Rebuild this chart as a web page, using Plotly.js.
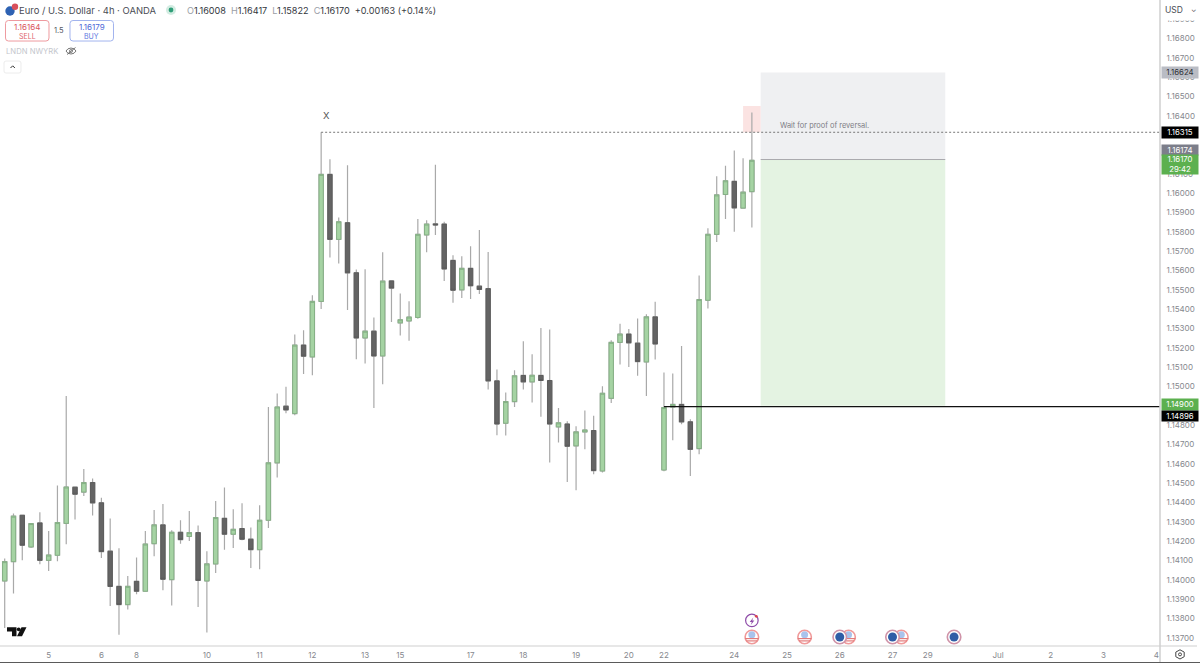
<!DOCTYPE html>
<html>
<head>
<meta charset="utf-8">
<script src="https://cdn.plot.ly/plotly-3.0.1.min.js"></script>
<style>html,body{margin:0;padding:0;background:#fff;overflow:hidden}#chart{width:1200px;height:663px}</style>
</head>
<body>
<div id="chart"></div>
<script>
const open = [1.13994,1.14094,1.14334,1.14170,1.14294,1.14101,1.14127,1.14292,1.14479,1.14454,
1.14503,1.14398,1.14148,1.13966,1.13872,1.13992,1.13941,1.14187,1.14284,1.14001,
1.14246,1.14224,1.14244,1.13994,1.14082,1.14318,1.14236,1.14265,1.14210,1.14156,
1.14308,1.14605,1.14898,1.14860,1.15214,1.15153,1.15440,1.16097,1.15761,1.15847,
1.15588,1.15251,1.15286,1.15158,1.15546,1.15329,1.15339,1.15357,1.15784,1.15841,
1.15840,1.15652,1.15500,1.15611,1.15519,1.15506,1.15029,1.14810,1.14922,1.15057,
1.15024,1.15057,1.15031,1.14791,1.14806,1.14693,1.14765,1.14772,1.14563,1.14939,
1.15228,1.15271,1.15224,1.15127,1.15360,1.14568,1.14894,1.14907,1.14817,1.14679,
1.15446,1.15787,1.15993,1.16061,1.15923,1.16008];
const high = [1.14110,1.14343,1.14334,1.14294,1.14349,1.14253,1.14488,1.14951,1.14480,1.14573,
1.14524,1.14425,1.14317,1.14163,1.14020,1.14115,1.14253,1.14361,1.14392,1.14256,
1.14308,1.14356,1.14281,1.14148,1.14408,1.14477,1.14365,1.14396,1.14270,1.14386,
1.14894,1.14964,1.14998,1.15269,1.15291,1.15472,1.16315,1.16175,1.15874,1.16145,
1.15605,1.15607,1.15357,1.15695,1.15550,1.15481,1.15441,1.15867,1.15860,1.16147,
1.15852,1.15679,1.15674,1.15726,1.15809,1.15696,1.15088,1.14969,1.15084,1.15234,
1.15167,1.15302,1.15295,1.14889,1.14820,1.14794,1.14876,1.14848,1.15001,1.15239,
1.15324,1.15298,1.15352,1.15374,1.15438,1.15072,1.15067,1.15210,1.14831,1.15574,
1.15818,1.16088,1.16142,1.16221,1.16180,1.16417];
const low = [1.13751,1.13929,1.14101,1.14165,1.14080,1.14046,1.14096,1.14184,1.14312,1.14434,
1.14332,1.14113,1.13865,1.13716,1.13846,1.13925,1.13938,1.14122,1.13946,1.13867,
1.14187,1.14201,1.13859,1.13728,1.14035,1.14156,1.14165,1.14205,1.14061,1.14054,
1.14268,1.14529,1.14862,1.14851,1.15064,1.15058,1.15401,1.15667,1.15636,1.15395,
1.15141,1.15119,1.14889,1.15012,1.15334,1.15264,1.15236,1.15350,1.15695,1.15784,
1.15546,1.15433,1.15458,1.15453,1.15478,1.14984,1.14748,1.14746,1.14894,1.14984,
1.14917,1.14843,1.14607,1.14710,1.14506,1.14463,1.14675,1.14546,1.14555,1.14915,
1.15114,1.15101,1.15055,1.14951,1.15140,1.14562,1.14722,1.14805,1.14537,1.14650,
1.15404,1.15747,1.15866,1.15800,1.15920,1.15822];
const close = [1.14094,1.14329,1.14179,1.14291,1.14101,1.14128,1.14296,1.14480,1.14443,1.14503,
1.14398,1.14146,1.13966,1.13872,1.13966,1.13941,1.14185,1.14284,1.14003,1.14246,
1.14208,1.14244,1.13997,1.14082,1.14322,1.14236,1.14261,1.14210,1.14156,1.14308,
1.14605,1.14894,1.14879,1.15214,1.15157,1.15440,1.16097,1.15761,1.15852,1.15588,
1.15251,1.15286,1.15158,1.15545,1.15509,1.15345,1.15359,1.15787,1.15840,1.15836,
1.15608,1.15498,1.15611,1.15521,1.15502,1.15029,1.14806,1.14922,1.15055,1.15024,
1.15058,1.15031,1.14806,1.14812,1.14691,1.14765,1.14775,1.14565,1.14965,1.15228,
1.15271,1.15226,1.15129,1.15360,1.15220,1.14891,1.14907,1.14817,1.14675,1.15450,
1.15787,1.15991,1.16064,1.15924,1.16005,1.16170];

const tickIdx = [5,11,15,23,29,35,41,45,53,59,65,71,75,83,89,95,101,105,113,119,125,131];
const tickDay = ['5','6','8','10','11','12','13','15','17','18','19','20','22','24','25','26','27','29','Jul','2','3','4'];
const priceTicks = [1.137,1.138,1.139,1.140,1.141,1.142,1.143,1.144,1.145,1.146,1.147,1.148,1.150,1.151,1.152,1.153,1.154,1.155,1.156,1.157,1.158,1.159,1.160,1.161,1.164,1.165,1.166,1.167,1.168,1.169];

const levelTarget = 1.16624, levelHigh = 1.16315, levelEntry = 1.16174, levelLast = 1.16170, levelStop = 1.14900, levelBase = 1.14896, zoneTop = 1.16451;
const eventsUS = [85,91,96,102];
const eventsEU = [95,101,108];
const eventLevel = 1.13704, alertLevel = 1.13790;

const idx = open.map((_, i) => i);
const W = 1160, H = 645.7;
const px = x => x / W, py = y => 1 - y / H;
const FONT = 'Inter, "Noto Sans", sans-serif';

function rrect(x0, y0, x1, y1, r) {
  const X = v => px(v).toFixed(5), Y = v => py(v).toFixed(5);
  return `M${X(x0 + r)},${Y(y0)}L${X(x1 - r)},${Y(y0)}Q${X(x1)},${Y(y0)} ${X(x1)},${Y(y0 + r)}L${X(x1)},${Y(y1 - r)}Q${X(x1)},${Y(y1)} ${X(x1 - r)},${Y(y1)}L${X(x0 + r)},${Y(y1)}Q${X(x0)},${Y(y1)} ${X(x0)},${Y(y1 - r)}L${X(x0)},${Y(y0 + r)}Q${X(x0)},${Y(y0)} ${X(x0 + r)},${Y(y0)}Z`;
}
function poly(pts) {
  return 'M' + pts.map(p => px(p[0]).toFixed(5) + ',' + py(p[1]).toFixed(5)).join('L') + 'Z';
}
function line(pts) {
  return 'M' + pts.map(p => px(p[0]).toFixed(5) + ',' + py(p[1]).toFixed(5)).join('L');
}
const chrome = (o) => Object.assign({type: 'path', xref: 'paper', yref: 'paper', layer: 'above', line: {width: 0}}, o);
const circ = (cx, cy, r, o) => Object.assign({type: 'circle', xref: 'paper', yref: 'paper', layer: 'above',
  x0: px(cx - r), x1: px(cx + r), y0: py(cy + r), y1: py(cy - r), line: {width: 0}}, o);

const wicks = {
  type: 'candlestick', x: idx, open, high, low, close, width: 0.84, whiskerwidth: 0, hoverinfo: 'skip', showlegend: false,
  increasing: {line: {color: '#a9a9a9', width: 1.2}, fillcolor: '#a9a9a9'},
  decreasing: {line: {color: '#a9a9a9', width: 1.2}, fillcolor: '#a9a9a9'}
};
const bodies = {
  type: 'candlestick', x: idx, open, close,
  high: open.map((o, i) => Math.max(o, close[i])), low: open.map((o, i) => Math.min(o, close[i])),
  width: 0.84, whiskerwidth: 0, hoverinfo: 'skip', showlegend: false,
  increasing: {line: {color: '#86b186', width: 1}, fillcolor: '#a5d3a3'},
  decreasing: {line: {color: '#5c5c5c', width: 1}, fillcolor: '#646464'}
};
const mk = (xs, yy, marker) => ({type: 'scatter', mode: 'markers', x: xs, y: xs.map(() => yy), hoverinfo: 'skip', showlegend: false, marker});
const traces = [wicks, bodies,
  mk(eventsUS, eventLevel, {symbol: 'circle', size: 13.5, color: '#ffffff', line: {color: '#f09a9a', width: 1.6}}),
  mk(eventsUS, eventLevel + 0.00012, {symbol: 'circle', size: 7, color: '#a9c3ec'}),
  mk(eventsUS, eventLevel - 0.00008, {symbol: 'line-ew', size: 10, line: {color: '#e27b7b', width: 1.2}}),
  mk(eventsUS, eventLevel - 0.00020, {symbol: 'line-ew', size: 8, line: {color: '#e27b7b', width: 1.2}}),
  mk(eventsEU, eventLevel, {symbol: 'circle', size: 13.5, color: '#ffffff', line: {color: '#cf93a8', width: 1.6}}),
  mk(eventsEU, eventLevel, {symbol: 'circle', size: 9, color: '#2f5da6'}),
  mk([85], alertLevel, {symbol: 'circle', size: 12.5, color: '#ffffff', line: {color: '#8e4ba8', width: 1.2}})
];

const shapes = [
  {type: 'rect', xref: 'x', yref: 'y', x0: 86, x1: 107, y0: levelEntry, y1: levelTarget, fillcolor: '#eff0f2', line: {width: 0}, layer: 'below'},
  {type: 'rect', xref: 'x', yref: 'y', x0: 86, x1: 107, y0: levelStop, y1: levelEntry, fillcolor: '#e4f3e2', line: {width: 0}, layer: 'below'},
  {type: 'rect', xref: 'x', yref: 'y', x0: 84, x1: 86, y0: levelHigh, y1: zoneTop, fillcolor: '#fbe3e2', line: {width: 0}, layer: 'below'},
  {type: 'line', xref: 'x', yref: 'y', x0: 86, x1: 107, y0: levelEntry, y1: levelEntry, line: {color: '#a9a9ad', width: 1}, layer: 'below'},
  {type: 'line', xref: 'x', yref: 'y', x0: 36, x1: 131.43, y0: levelHigh, y1: levelHigh, line: {color: '#777777', width: 1, dash: '2px,2px'}},
  {type: 'line', xref: 'x', yref: 'y', x0: 75, x1: 131.43, y0: levelBase, y1: levelBase, line: {color: '#111111', width: 1.4}},
  // white cover behind the currency selector
  chrome({path: poly([[1161.5, 0], [1200, 0], [1200, 20.5], [1161.5, 20.5]]), fillcolor: '#ffffff'}),
  // axis frame
  chrome({path: line([[1160, 0], [1160, 662]]), line: {color: '#d2d2d2', width: 1.6}}),
  chrome({path: line([[0, 645.7], [1197, 645.7]]), line: {color: '#cfcfcf', width: 1.2}}),
  chrome({path: line([[0, 662.4], [1200, 662.4]]), line: {color: '#5a5a5a', width: 1.2}}),
  // order buttons
  chrome({path: rrect(5.5, 20.5, 49, 41, 3), fillcolor: '#ffffff', line: {color: '#ee9a9f', width: 1}}),
  chrome({path: rrect(70, 20.5, 113.5, 41, 3), fillcolor: '#ffffff', line: {color: '#a2b4ee', width: 1}}),
  chrome({path: rrect(4, 61, 21, 73, 2), fillcolor: '#ffffff', line: {color: '#ececec', width: 1}}),
  chrome({path: line([[10.5, 68], [12.7, 65.8], [14.9, 68]]), line: {color: '#333333', width: 1}}),
  // symbol icons
  circ(10, 11, 4.7, {fillcolor: '#2e62b3'}),
  circ(15, 6.8, 3.2, {fillcolor: '#d9505a'}),
  circ(171, 10, 5, {fillcolor: '#d3ece2'}),
  circ(171, 10, 2.4, {fillcolor: '#2f9e78'}),
  // eye icon
  chrome({path: poly([[66, 51], [68, 48.8], [71, 48], [74, 48.8], [76, 51], [74, 53.2], [71, 54], [68, 53.2]]), fillcolor: 'rgba(0,0,0,0)', line: {color: '#666', width: 0.9}}),
  circ(71, 51, 1.5, {line: {color: '#666', width: 0.8}}),
  chrome({path: line([[67, 54.5], [75.5, 47.5]]), line: {color: '#666', width: 0.9}}),
  // TV logo
  chrome({path: poly([[7, 627], [16.5, 627], [16.5, 636], [12, 636], [12, 631.3], [7, 631.3]]), fillcolor: '#111111'}),
  circ(18.7, 629, 1.9, {fillcolor: '#111111'}),
  chrome({path: poly([[21.5, 627], [26.5, 627], [22, 636], [17, 636]]), fillcolor: '#111111'}),
  // alert bolt
  chrome({path: poly([[753.3, 617.3], [749.7, 621.7], [751.8, 621.7], [750.8, 624.7], [754.3, 620.3], [752.2, 620.3]]), fillcolor: '#8e4ba8'}),
  circ(756.3, 616, 1.4, {fillcolor: '#e0454f'}),
  // settings gear
  chrome({path: poly([[1180, 649.5], [1184.2, 651.8], [1184.2, 656.4], [1180, 658.7], [1175.8, 656.4], [1175.8, 651.8]]), fillcolor: 'rgba(0,0,0,0)', line: {color: '#444', width: 1}}),
  circ(1180, 654.1, 1.5, {line: {color: '#444', width: 1}})
];

const note = (x, y, text, size, color, extra) => Object.assign({
  xref: 'paper', yref: 'paper', x: px(x), y: py(y), text, showarrow: false, xanchor: 'left', yanchor: 'middle',
  font: {family: FONT, size, color}, borderpad: 0, borderwidth: 0
}, extra || {});
const badge = (price, label, bg, color, h, shift) => ({
  xref: 'paper', yref: 'y', x: px(1160.8), y: price, yshift: shift, text: label, showarrow: false,
  xanchor: 'left', yanchor: 'middle', align: 'center', width: 36, height: h, bgcolor: bg, borderpad: 0,
  font: {family: FONT, size: 7.8, color}
});
const gl = '#9a9ea6', dk = '#3a3d44';
const ohlc = `<span style="color:${gl}">O</span>1.16008  <span style="color:${gl}">H</span>1.16417  <span style="color:${gl}">L</span>1.15822  <span style="color:${gl}">C</span>1.16170  <span style="color:${dk}">+0.00163 (+0.14%)</span>`;
const annotations = [
  note(19, 10.5, 'Euro / U.S. Dollar · 4h · OANDA', 9.45, '#4a4d55'),
  note(187, 10.5, ohlc, 9.1, '#33363d'),
  note(27.2, 26.8, '1.16164', 8, '#d9545d', {xanchor: 'center'}),
  note(27.2, 36, 'SELL', 7, '#e0656d', {xanchor: 'center'}),
  note(59, 30.5, '1.5', 7.5, '#55585f', {xanchor: 'center'}),
  note(91.7, 26.8, '1.16179', 8, '#4d68d8', {xanchor: 'center'}),
  note(91.7, 36, 'BUY', 7, '#5d78e0', {xanchor: 'center'}),
  note(5.5, 51.7, 'LNDN NWYRK', 7.7, '#c4c6cc'),
  note(323, 115, 'X', 9.5, '#555555'),
  note(779.5, 125.8, 'Wait for proof of reversal.', 7.4, '#7d7d85'),
  note(1165, 10.3, 'USD', 8.5, '#4a4d55'),
  note(1190.5, 9.5, '⌄', 7, '#555555'),
  badge(levelTarget, '1.16624', '#b9bcc4', '#2e3036', 10.5, 0.5),
  badge(levelHigh, '1.16315', '#000000', '#ffffff', 10.5, 0),
  badge(levelEntry, '1.16174', '#7c7e8a', '#ffffff', 10, 9.5),
  badge(levelLast, '1.16170<br>29:42', '#5cb04f', '#ffffff', 18.5, -4),
  badge(levelStop, '1.14900', '#5cb04f', '#ffffff', 10.5, 1),
  badge(levelBase, '1.14896', '#000000', '#ffffff', 10, -9)
];

const layout = {
  width: 1200, height: 663, paper_bgcolor: '#ffffff', plot_bgcolor: '#ffffff',
  margin: {l: 0, r: 40, t: 0, b: 17.3, pad: 0}, showlegend: false, hovermode: false, dragmode: false,
  xaxis: {type: 'linear', range: [-0.535, 131.43], tickmode: 'array', tickvals: tickIdx, ticktext: tickDay, showgrid: false, zeroline: false,
    showline: false, ticks: 'outside', ticklen: 1, tickcolor: 'rgba(0,0,0,0)', rangeslider: {visible: false},
    tickfont: {family: FONT, size: 8, color: '#86888e'}},
  yaxis: {side: 'right', range: [1.136576, 1.169992], tickmode: 'array', tickvals: priceTicks, ticktext: priceTicks.map(v => v.toFixed(5)),
    showgrid: false, zeroline: false, showline: false, ticks: 'outside', ticklen: 4, tickcolor: 'rgba(0,0,0,0)',
    tickfont: {family: FONT, size: 8, color: '#86888e'}},
  shapes, annotations
};
Plotly.newPlot('chart', traces, layout, {displayModeBar: false, staticPlot: true});
</script>
</body>
</html>
